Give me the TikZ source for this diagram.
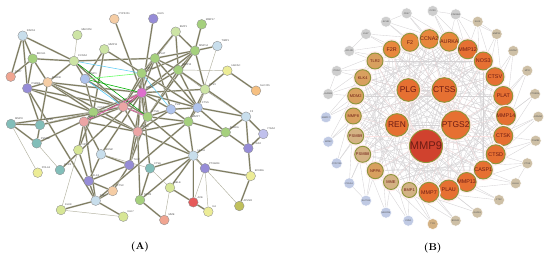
\documentclass[tikz,border=0pt]{standalone}
\usepackage{fontspec}
\newfontfamily\genefont{Liberation Sans}
\usepackage{tikz}
\usetikzlibrary{positioning,backgrounds}

\definecolor{linkA}{RGB}{128,126,98}
\definecolor{linkB}{RGB}{212,210,212}
\definecolor{ringB}{RGB}{140,150,60}
\definecolor{hubB}{RGB}{230,112,50}
\definecolor{coreB}{RGB}{208,66,46}
\definecolor{innerB}{RGB}{232,135,60}
\definecolor{tanB}{RGB}{216,160,95}
\definecolor{paleB}{RGB}{212,178,132}
\definecolor{grayB}{RGB}{206,206,206}
\definecolor{sandB}{RGB}{206,192,166}
\definecolor{blueB}{RGB}{192,202,228}
\definecolor{textB}{RGB}{110,28,20}
\definecolor{lblueA}{RGB}{200,222,236}
\definecolor{lgreenA}{RGB}{205,228,165}
\definecolor{greenA}{RGB}{165,208,125}
\definecolor{peachA}{RGB}{245,205,165}
\definecolor{salmonA}{RGB}{240,165,145}
\definecolor{purpleA}{RGB}{150,140,215}
\definecolor{magentaA}{RGB}{222,110,205}
\definecolor{blueA}{RGB}{175,195,236}
\definecolor{yellowA}{RGB}{236,236,150}
\definecolor{ygreenA}{RGB}{215,230,150}
\definecolor{tealA}{RGB}{130,190,185}
\definecolor{pinkA}{RGB}{236,165,165}
\definecolor{orangeA}{RGB}{246,192,130}
\definecolor{redA}{RGB}{230,90,90}
\definecolor{oliveA}{RGB}{192,192,92}
\definecolor{lpurpleA}{RGB}{192,192,236}

\begin{document}
\begin{tikzpicture}[
        x=0.03cm, y=-0.03cm,
        prot/.style={circle, draw=black!45, line width=0.3pt, minimum size=0.29cm, inner sep=0pt},
        albl/.style={font=\genefont\fontsize{2.2}{2.4}\selectfont, text=black!70, inner sep=0.4pt, anchor=south west},
        link/.style={draw=linkA, line width=1pt, preaction={draw=black!12, line width=1.6pt}},
        thinlink/.style={draw=linkA!60, line width=0.4pt},
        web/.style={draw=linkB, line width=0.3pt},
        gene/.style={circle, draw=ringB, line width=0.8pt, preaction={draw=pink!30, line width=3pt}, inner sep=0pt, text=textB, font=\genefont\fontsize{4.6}{5}\selectfont},
        minor/.style={gene, font=\genefont\fontsize{3.4}{4}\selectfont},
        hub/.style={gene, font=\genefont\fontsize{7.2}{8}\selectfont},
        outer/.style={circle, draw=white, line width=0.4pt, minimum size=0.33cm, inner sep=0pt, text=black!70, font=\genefont\fontsize{1.9}{2.2}\selectfont},
        panel/.style={font=\bfseries\fontsize{8.5}{9}\selectfont}
    ]
        \useasboundingbox (0,0) rectangle (550,257);

        % Panel A: proteins
        \foreach \n/\x/\y/\c/\t in {
            a01/22.7/35.7/lblueA/RAD51, a02/77.3/35/lgreenA/MECOM, a03/114.3/19/peachA/CYP27A1,
            a04/104.3/49.3/lgreenA/MMP11, a05/32.7/58.7/greenA/BRCA1, a06/74/61/lgreenA/CCNA2,
            a07/10.7/76.7/salmonA/CD47, a08/47.7/82.3/peachA/AURKB, a09/85/79/blueA/MMP1,
            a10/27.3/88.3/purpleA/PSMB5, a11/153.3/18.7/purpleA/KLK5, a12/175.7/31.7/lgreenA/BMP1,
            a13/201.7/24.3/greenA/MMP17, a14/195/50.7/greenA/MMP14, a15/217.3/46/lblueA/TIMP1,
            a16/155/58.3/greenA/PLAT, a17/178.3/70/greenA/MMP12, a18/227.3/70.7/yellowA/HGFAC,
            a19/256/90.7/orangeA/SLC7A5, a20/205/89.3/lgreenA/CTSV, a21/141.7/73.3/greenA/CTSK,
            a22/141.7/92.7/magentaA/MMP9, a23/171/109.3/blueA/PLG, a24/197.7/107.7/blueA/CTSS,
            a25/246/116.7/lblueA/F2, a26/93.3/112.3/greenA/CASP1, a27/84/121.7/pinkA/NOS3,
            a28/123.3/106.7/pinkA/REN, a29/147.7/116.7/greenA/CTSD, a31/137.7/131.7/pinkA/PLAU,
            a32/11/124/tealA/MMP8, a33/40/125/tealA/PSMB8, a34/36.7/143.3/tealA/PSMB9,
            a35/78.3/150/ygreenA/NPPA, a36/101/154.3/lblueA/MDM2, a37/60/170/tealA/CCR3,
            a38/37.7/172.7/yellowA/POLA1, a39/129.3/165/purpleA/TLR2, a40/88.7/181/purpleA/KLK4,
            a41/112.7/191/peachA/CTSC, a42/95.7/200.7/lblueA/F2R, a43/61/210/ygreenA/KLK8,
            a44/123.3/216.7/ygreenA/KLK7, a45/263.3/134/lpurpleA/ITGA2, a46/248.3/148.3/purpleA/PTGS2,
            a47/225.7/132.3/greenA/AURKA, a48/188.3/121.7/greenA/MMP7, a49/193.3/155.7/lblueA/HLA-A,
            a50/205/168.3/purpleA/PTGER4, a51/250.7/176/yellowA/EDNRA, a52/150/168.3/tealA/CTSE,
            a53/170/187.7/ygreenA/SELE, a54/140/200/greenA/NPPB, a55/193.3/202.3/redA/ACE,
            a56/208.3/211.7/yellowA/IL6, a57/239.3/206/oliveA/APLNR, a58/164.3/220/salmonA/MME}
            \node[prot, fill=\c, label={[albl]north east:\t}] (\n) at (\x,\y) {};

        \begin{scope}[on background layer]
            \foreach \p/\q in {a01/a05, a01/a07, a01/a10, a01/a06, a05/a06, a05/a08, a05/a10, a05/a07,
                a06/a08, a06/a09, a06/a16, a04/a09, a04/a26, a03/a22, a10/a08, a10/a26,
                a10/a28, a10/a33, a10/a42, a08/a22, a08/a28, a08/a31, a08/a33, a11/a22, a12/a16,
                a12/a14, a12/a17, a12/a21, a13/a14, a14/a15, a14/a16, a14/a17, a14/a21, a14/a22,
                a14/a20, a16/a17, a16/a21, a16/a22, a16/a23, a17/a20, a17/a22, a17/a24, a17/a29,
                a18/a19, a18/a20, a20/a24, a20/a25, a20/a22, a21/a22, a21/a28, a22/a23, a22/a24,
                a22/a26, a22/a28, a22/a29, a22/a31, a23/a24, a23/a29, a23/a48, a24/a25, a24/a48,
                a25/a45, a25/a46, a25/a47, a26/a27, a26/a28, a26/a32, a26/a33, a26/a35, a27/a31,
                a27/a35, a27/a36, a27/a42, a28/a31, a28/a29, a29/a31, a29/a48, a29/a39, a31/a39,
                a31/a49, a32/a33, a32/a34, a33/a34, a34/a22, a37/a22, a35/a40, a36/a22, a36/a40,
                a36/a39, a39/a40, a39/a41, a39/a22, a40/a42, a40/a41, a41/a42, a42/a43, a42/a44,
                a45/a46, a46/a47, a46/a51, a47/a48, a47/a49, a48/a49, a49/a50, a49/a52, a49/a53,
                a49/a54, a49/a55, a50/a51, a51/a57, a52/a54, a52/a22, a53/a55, a54/a58, a55/a56,
                a54/a31, a42/a48, a04/a24, a14/a29, a17/a25, a21/a31, a16/a28, a09/a29, a06/a28,
                a26/a31, a27/a28, a21/a29, a16/a24, a09/a26, a33/a28, a08/a26, a48/a31, a49/a29,
                a23/a31, a20/a48, a47/a24}
                \draw[link] (\p) -- (\q);
            \foreach \p/\q in {a32/a38, a34/a37, a35/a43, a43/a44, a53/a58, a56/a50, a57/a49,
                a18/a17, a15/a24, a02/a06, a36/a52, a52/a53, a50/a55}
                \draw[thinlink] (\p) -- (\q);
            \draw[green!70!black, line width=0.5pt] (a09) -- (a22);
            \draw[green!60!black, line width=0.5pt] (a06) -- (a29);
            \draw[green!60, line width=0.5pt] (a09) -- (a21);
            \draw[magenta!80, line width=0.5pt] (a22) -- (a28);
            \draw[magenta!70, line width=0.5pt] (a27) -- (a22);
            \draw[magenta!60, line width=0.5pt] (a28) -- (a29);
            \draw[cyan!70, line width=0.5pt] (a09) -- (a28);
            \draw[cyan!60, line width=0.5pt] (a21) -- (a23);
            \draw[cyan!60, line width=0.5pt] (a06) -- (a21);
        \end{scope}

        % Panel B: core
        \node[hub, fill=hubB, minimum size=0.68cm] (PLG) at (408.3,90) {PLG};
        \node[hub, fill=hubB, minimum size=0.74cm] (CTSS) at (444.3,90) {CTSS};
        \node[hub, fill=hubB, minimum size=0.68cm] (REN) at (397,125) {REN};
        \node[hub, fill=hubB, minimum size=0.74cm] (PTGS2) at (455.7,125) {PTGS2};
        \node[hub, fill=coreB, minimum size=0.92cm, font=\genefont\fontsize{9.5}{10}\selectfont] (MMP9) at (426,146) {MMP9};

        % Panel B: inner ring
        \foreach \n/\x/\y/\s/\c/\t in {
            r1/410/42.3/0.54/innerB/F2, r2/429.3/39/0.54/innerB/CCNA2, r3/449.3/41.7/0.54/innerB/AURKA,
            r4/467.7/49.3/0.54/hubB/MMP12, r5/483.3/61/0.54/hubB/NOS3, r6/495/76.7/0.54/hubB/CTSV,
            r7/503.3/96/0.57/hubB/PLAT, r8/506/116/0.57/hubB/MMP14, r9/503.3/136/0.57/hubB/CTSK,
            r10/495.7/154.3/0.57/hubB/CTSD, r11/483.3/170/0.54/hubB/CASP1, r12/466.7/182/0.54/hubB/MMP13,
            r13/448.7/190/0.6/hubB/PLAU, r14/429/192.3/0.6/hubB/MMP7, r24/391.7/49.3/0.5/innerB/F2R}
            \node[gene, fill=\c, minimum size=\s cm] (\n) at (\x,\y) {\t};
        \foreach \n/\x/\y/\s/\c/\t in {
            r15/409.3/190/0.45/paleB/BMP1, r16/391/182/0.45/paleB/MME, r17/375.3/170.7/0.48/tanB/NPPA,
            r18/362.7/154.3/0.48/paleB/PSMB8, r19/355.7/136/0.48/paleB/PSMB9, r20/353.3/116/0.48/tanB/MMP8,
            r21/355.7/96/0.48/tanB/MDM2, r22/362.7/77.7/0.48/tanB/KLK4, r23/375/61/0.48/tanB/TLR2}
            \node[minor, fill=\c, minimum size=\s cm] (\n) at (\x,\y) {\t};

        % Panel B: outer ring
        \foreach \n/\x/\y/\c/\t in {
            o1/386/21.7/grayB/ACHE, o2/406.7/13.3/grayB/CD47, o3/432.7/11/grayB/CCR3,
            o4/455.7/14.3/grayB/CDKN2A, o5/477.7/21.7/sandB/KLK5, o6/496.7/34/sandB/MMP11,
            o7/513.3/51/sandB/HGFAC, o8/527.3/70.7/sandB/MPO, o9/535/94/sandB/PTGER4,
            o10/538.3/116.7/sandB/EDNRA, o11/535.7/140.7/sandB/PSMB5, o12/527.3/163.3/sandB/CTSE,
            o13/515.7/183.3/sandB/HLA-A, o14/499/200/sandB/CTSC, o15/477.3/212.7/sandB/RAD51,
            o16/455.7/220.7/sandB/BRCA1, o17/432.7/224/paleB/TYR, o18/408.3/220.7/blueB/CNN1,
            o19/386/212.7/blueB/MECOM, o20/366/200.7/blueB/SLC7A5, o21/349.3/183.3/blueB/POLA1,
            o22/336.7/163.3/blueB/CYP27A1, o23/328.3/141.7/blueB/MCM2, o24/326/117.3/blueB/MMP17,
            o25/328.3/94/grayB/AURKB, o26/336.7/71/grayB/ITGA2, o27/349.3/51/grayB/APLNR,
            o28/366/34/grayB/KLK7}
            \node[outer, fill=\c] (\n) at (\x,\y) {\t};

        \begin{scope}[on background layer]
            \foreach \i in {1,...,24}
                \foreach \c in {PLG,CTSS,REN,PTGS2,MMP9}
                    \draw[web] (r\i) -- (\c);
            \foreach \p/\q in {PLG/CTSS, PLG/REN, PLG/PTGS2, PLG/MMP9, CTSS/REN, CTSS/PTGS2,
                CTSS/MMP9, REN/PTGS2, REN/MMP9, PTGS2/MMP9}
                \draw[web] (\p) -- (\q);
            \foreach \i in {1,...,24} {
                \pgfmathtruncatemacro\j{mod(\i+5,24)+1}
                \pgfmathtruncatemacro\k{mod(\i+9,24)+1}
                \pgfmathtruncatemacro\m{mod(\i+13,24)+1}
                \draw[web] (r\i) -- (r\j);
                \draw[web] (r\i) -- (r\k);
                \draw[web, pink!40] (r\i) -- (r\m);
            }
            \foreach \i in {1,...,28} {
                \pgfmathtruncatemacro\j{mod(round(\i*24/28)+23,24)+1}
                \pgfmathtruncatemacro\k{mod(round(\i*24/28)+25,24)+1}
                \pgfmathtruncatemacro\m{mod(round(\i*24/28)+6,24)+1}
                \draw[web] (o\i) -- (r\j);
                \draw[web] (o\i) -- (r\k);
                \draw[web] (o\i) -- (r\m);
            }
            \foreach \p/\q in {o1/o2, o3/o4, o4/o6, o27/o28, o25/o26, o5/o6, o12/o13, o20/o21}
                \draw[web] (\p) -- (\q);
        \end{scope}

        % Panel letters
        \node[panel] (labA) at (140,247.5) {(A)};
        \node[panel] (labB) at (432.7,248) {(B)};
\end{tikzpicture}
\end{document}
